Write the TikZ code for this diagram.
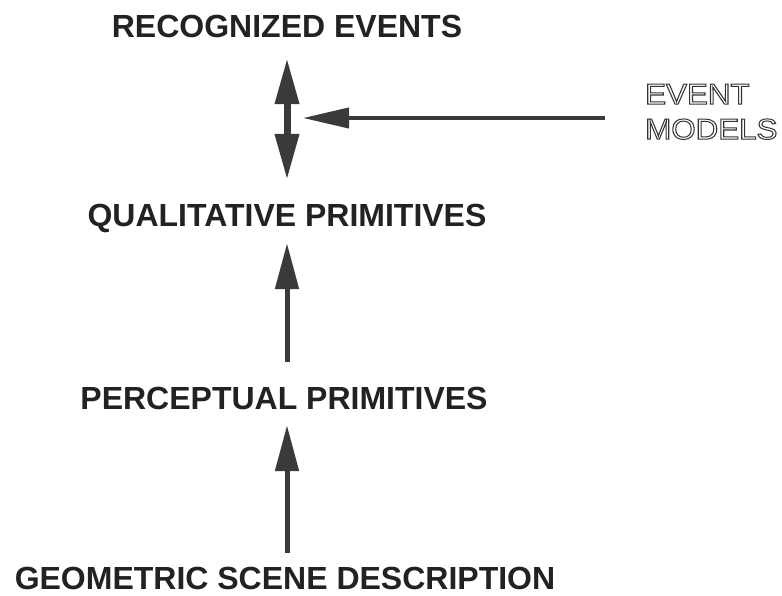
\documentclass[tikz,border=0pt]{standalone}
\usepackage{fontspec}
\setmainfont{Liberation Sans}
\usetikzlibrary{arrows.meta}
\definecolor{ink}{HTML}{222222}
\definecolor{arr}{HTML}{3A3A3A}
\newcommand{\outlinetext}[1]{\special{pdf:literal direct 1 Tr 1 w 0.2 G}#1\special{pdf:literal direct 0 Tr 0 G}}
\tikzset{
  lbl/.style={font=\fontsize{32}{32}\selectfont\bfseries, text=ink, inner sep=0pt, text height=23pt, text depth=0pt, anchor=base},
  bigarrow/.style={draw=arr, line width=5pt, -{Triangle[width=23pt,length=46pt]}},
  dblarrow/.style={draw=arr, line width=7pt, {Triangle[width=23pt,length=46pt]}-{Triangle[width=23pt,length=46pt]}},
  harrow/.style={draw=arr, line width=4pt, -{Triangle[width=20pt,length=46pt]}},
  outl/.style={font=\fontsize{29}{35}\selectfont, inner sep=0pt, align=left, anchor=north west, xscale=1.08}
}
\begin{document}
\begin{tikzpicture}[x=1pt,y=-1pt]
\useasboundingbox (0,0) rectangle (782,595);
\node[lbl] (rec) at (287,37) {RECOGNIZED EVENTS};
\node[lbl] (qual) at (287,226) {QUALITATIVE PRIMITIVES};
\node[lbl] (perc) at (284,409) {PERCEPTUAL PRIMITIVES};
\node[lbl] (geo) at (285,589) {GEOMETRIC SCENE DESCRIPTION};
\node[outl] (em) at (645,84) {\outlinetext{EVENT}\\\outlinetext{MODELS}};
\coordinate (mid) at (287,118);
\draw[dblarrow, shorten <=21pt, shorten >=23pt] (rec.south) -- (rec.south |- qual.north);
\draw[bigarrow, shorten <=24pt, shorten >=17pt] (perc.north -| rec.south) -- (qual.south -| rec.south);
\draw[bigarrow, shorten <=13pt, shorten >=16pt] (geo.north -| rec.south) -- (perc.south -| rec.south);
\draw[harrow, shorten >=16pt] ([xshift=-40pt]em.west |- mid) -- (mid);
\end{tikzpicture}
\end{document}
